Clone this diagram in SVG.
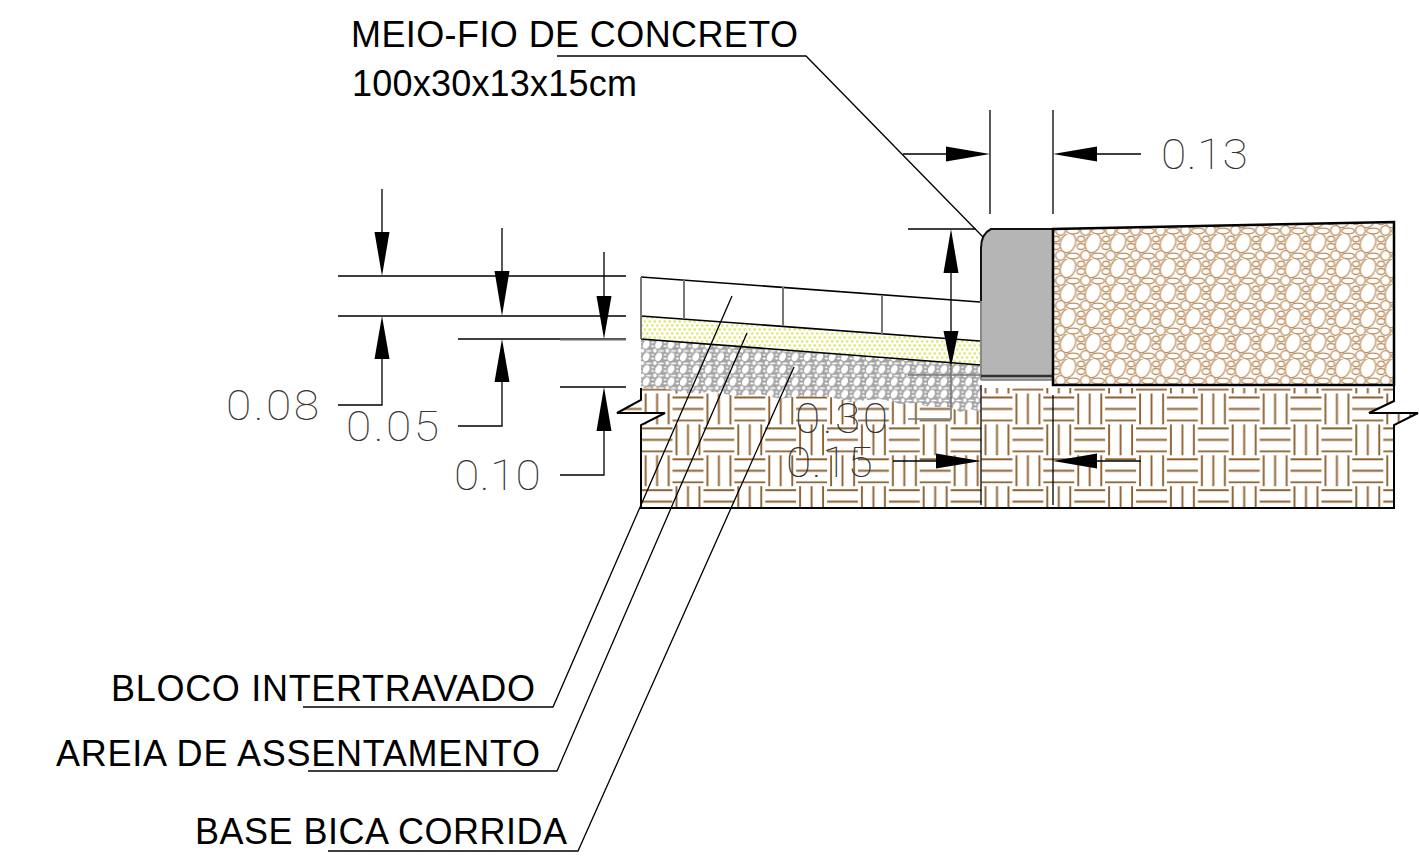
<svg xmlns="http://www.w3.org/2000/svg" width="1419" height="858" viewBox="0 0 1419 858">
<style>
.lbl{font-family:"Liberation Sans",Arial,sans-serif;font-size:36px;fill:#000}
.dim{font-family:Roboto,"Liberation Sans",sans-serif;font-weight:100;font-size:42px;fill:#333}
.t{fill:none;stroke:#000;stroke-width:1.3}
.g{fill:none;stroke:#777;stroke-width:1.6}
.k{fill:none;stroke:#000;stroke-width:2}
.p{fill:none;stroke:#000;stroke-width:1.6}
.a{fill:#000;stroke:none}
</style>
<defs>
<pattern id="weave" patternUnits="userSpaceOnUse" x="981.5" y="393.5" width="61.8" height="61.8">
<path fill="none" stroke="#8f6130" stroke-width="1.9" d="M0 4h31M0 15.5h31M0 27h31M31 34.9h31M31 46.4h31M31 57.9h31M35 0v31M46.4 0v31M58 0v31M4 31v31M15.5 31v31M27 31v31"/>
</pattern>
<g id="peb">
<ellipse cx="12.5" cy="9" rx="7.4" ry="10" transform="rotate(22 12.5 9)"/>
<circle cx="5" cy="21.5" r="4.8"/><circle cx="30" cy="21.5" r="4.8"/>
<ellipse cx="17.5" cy="22" rx="6.3" ry="2.8"/>
<ellipse cx="0.500" cy="5" rx="3.6" ry="2.8"/><ellipse cx="25.500" cy="5" rx="3.6" ry="2.8"/>
<ellipse cx="0.500" cy="12.500" rx="4" ry="3"/><ellipse cx="25.500" cy="12.500" rx="4" ry="3"/>
</g>
<pattern id="stone" patternUnits="userSpaceOnUse" x="1080.5" y="234" width="25" height="25">
<use href="#peb" fill="#fff" stroke="#bf9162" stroke-width="1.3"/>
<use href="#peb" y="-25" fill="#fff" stroke="#bf9162" stroke-width="1.3"/>
</pattern>
<pattern id="gravel" patternUnits="userSpaceOnUse" x="640" y="340" width="12.4" height="12.4">
<rect width="12.4" height="12.4" fill="#a4a4a4"/>
<g transform="scale(.496)"><use href="#peb" fill="#fff" stroke="#a0a0a0" stroke-width="1.8"/><use href="#peb" y="-25" fill="#fff" stroke="#a0a0a0" stroke-width="1.8"/></g>
</pattern>
<pattern id="sand" patternUnits="userSpaceOnUse" x="641" y="316" width="5" height="8">
<circle cx="1.2" cy="1.5" r="1.3" fill="#dfe65f"/><circle cx="3.7" cy="5.5" r="1.3" fill="#dfe65f"/>
</pattern>
</defs>
<g id="subgrade">
<path fill="url(#weave)" d="M641 388H1394V401L1369 413H1418L1394 425V508H641V425L665 413H617L641 400Z"/>
<path class="k" d="M641 388V400L617 413H665L641 425V508H1394V425L1418 413H1369L1394 401V385"/>
</g>
<g id="gravel-layer">
<path fill="url(#gravel)" d="M641 339L981 365V412L970 409L960 412L950 407L930 407L915 403L900 404L880 399L850 402L830 397L800 396L780 399L760 394L735 396L715 392L690 393L665 389L641 388Z"/>
</g>
<g id="sand-layer">
<path fill="url(#sand)" d="M641 316L980 341V365L641 339Z"/>
</g>
<g id="paver">
<path class="p" d="M641 277L980 302M641 316L980 341M641 339L981 365"/>
<path fill="none" stroke="#777" stroke-width="2" d="M641 277V339M684 280V319M783 287V326M882 295V334"/>
</g>
<g id="curb">
<path fill="#b5b5b5" d="M981 380V248C981 238 985 232 991 229H1053V380Z"/>
<path fill="none" stroke="#111" stroke-width="2" d="M981 301V248C981 238 985 232 991 229H1053"/>
<path fill="none" stroke="#888" stroke-width="2" d="M981 301V380"/>
<path fill="none" stroke="#333" stroke-width="2.500" d="M981 376H1053"/>
<path fill="none" stroke="#777" stroke-width="1.500" d="M981 380H1053"/>
</g>
<g id="stone-layer">
<path fill="url(#stone)" d="M1053 229L1394 222V385H1053Z"/>
<path fill="none" stroke="#000" stroke-width="2.500" d="M1053 229L1394 222V385H1053Z"/>
</g>
<g id="connectors">
<path class="t" d="M557 56H806L983 237"/>
<path class="t" d="M303 707H553L732 296"/>
<path class="t" d="M308 771H557L747 333"/>
<path class="t" d="M328 851H578L794 367"/>
<path class="t" d="M338 276H626M338 316H626M458 339H626M560 387H626"/>
<path fill="none" stroke="#666" stroke-width="2" d="M560 339.500H626"/>
<path class="t" d="M382 189V232M382 359V405H338M502 228V271M502 382V426H458M604 252V296M604 431V475H560"/>
<polygon class="a" points="374.500,232 389.500,232 382,276"/><polygon class="a" points="382,316 389.500,359 374.500,359"/>
<polygon class="a" points="494.500,271 509.500,271 502,316"/><polygon class="a" points="502,339 509.500,382 494.500,382"/>
<polygon class="a" points="596.500,296 611.500,296 604,339"/><polygon class="a" points="604,387 611.500,431 596.500,431"/>
<path class="t" d="M990 110V214M1053 110V214M903 154H946M1097 154H1141"/>
<polygon class="a" points="946,146.500 946,161.500 990,154"/><polygon class="a" points="1097,146.500 1097,161.500 1053,154"/>
<path class="t" d="M908 229H976M951 273V331"/>
<polygon class="a" points="951,229 958.500,273 943.500,273"/>
<polygon class="a" points="943.500,331 958.500,331 951,367"/>
<path class="g" d="M908 375H981M951 365V419H908"/>
<path class="t" d="M981 385V505M1053 395V505M893 461H936M1097 461H1141"/>
<polygon class="a" points="936,453.500 936,468.500 981,461"/><polygon class="a" points="1097,453.500 1097,468.500 1053,461"/>
</g>
<g id="labels">
<text class="lbl" x="351" y="47" textLength="447">MEIO-FIO DE CONCRETO</text>
<text class="lbl" x="352" y="96" textLength="285">100x30x13x15cm</text>
<text class="lbl" x="111" y="701" textLength="424">BLOCO INTERTRAVADO</text>
<text class="lbl" x="56" y="766" textLength="484">AREIA DE ASSENTAMENTO</text>
<text class="lbl" x="195" y="844" textLength="372">BASE BICA CORRIDA</text>
<text class="dim" transform="translate(226 420) scale(1.1 1)" textLength="84.500">0.08</text>
<text class="dim" transform="translate(346 441) scale(1.1 1)" textLength="84.500">0.05</text>
<text class="dim" transform="translate(454 490) scale(1.1 1)" textLength="79">0.10</text>
<text class="dim" transform="translate(795 433) scale(1.1 1)" textLength="84.500">0.30</text>
<text class="dim" transform="translate(786 477) scale(1.1 1)" textLength="79">0.15</text>
<text class="dim" transform="translate(1161 169) scale(1.1 1)" textLength="79">0.13</text>
</g>
</svg>
